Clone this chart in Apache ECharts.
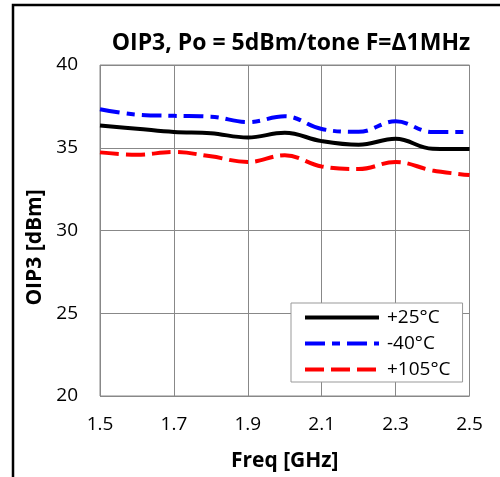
<!DOCTYPE html>
<html><head><meta charset="utf-8">
<script src="https://cdn.jsdelivr.net/npm/echarts@6/dist/echarts.min.js"></script>
<style>html,body{margin:0;padding:0;background:#fff}#c{width:500px;height:477px}</style>
</head><body><div id="c"></div>
<script>
const freq = [1.5, 1.6, 1.7, 1.8, 1.9, 2.0, 2.1, 2.2, 2.3, 2.4, 2.5];
const t25 = [36.34, 36.15, 35.95, 35.88, 35.62, 35.9, 35.4, 35.18, 35.54, 34.94, 34.92];
const tm40 = [37.33, 37.0, 36.93, 36.88, 36.55, 36.9, 36.13, 35.96, 36.6, 35.95, 35.95];
const t105 = [34.72, 34.58, 34.74, 34.48, 34.14, 34.54, 33.87, 33.71, 34.14, 33.63, 33.35];
const seriesNames = ['+25°C', '-40°C', '+105°C'];
const titleText = 'OIP3, Po = 5dBm/tone F=Δ1MHz';
const xName = 'Freq [GHz]';
const yName = 'OIP3 [dBm]';

const pair = (ys) => freq.map((f, i) => [f, ys[i]]);
const font = 'Open Sans';
const chart = echarts.init(document.getElementById('c'));
chart.setOption({
  animation: false,
  title: { text: titleText, left: 286, top: 27, textAlign: 'center',
    textStyle: { fontFamily: font, fontWeight: 'bold', fontSize: 23, color: '#000' } },
  grid: { left: 100, top: 65, right: 30.5, bottom: 80, show: true, borderColor: '#888', borderWidth: 1 },
  xAxis: { type: 'value', min: 1.5, max: 2.5, interval: 0.2,
    name: xName, nameLocation: 'middle', nameGap: 55,
    nameTextStyle: { fontFamily: font, fontWeight: 'bold', fontSize: 21, color: '#000' },
    axisLine: { show: false }, axisTick: { show: false },
    axisLabel: { fontFamily: font, fontSize: 19, color: '#000', margin: 19, formatter: v => v.toFixed(1) },
    splitLine: { show: true, lineStyle: { color: '#888', width: 1 } } },
  yAxis: { type: 'value', min: 20, max: 40, interval: 5,
    name: yName, nameLocation: 'middle', nameGap: 53,
    nameTextStyle: { fontFamily: font, fontWeight: 'bold', fontSize: 21, color: '#000', padding: [0, 34, 0, 0] },
    axisLine: { show: false }, axisTick: { show: false },
    axisLabel: { fontFamily: font, fontSize: 19, color: '#000', margin: 22 },
    splitLine: { show: true, lineStyle: { color: '#888', width: 1 } } },
  legend: { orient: 'vertical', left: 291, top: 303, itemWidth: 74, itemHeight: 12, itemGap: 7,
    padding: [5, 12, 3, 12], backgroundColor: '#fff', borderColor: '#999', borderWidth: 1,
    itemStyle: { opacity: 0 }, lineStyle: { width: 4 },
    textStyle: { fontFamily: font, fontSize: 19, color: '#000', padding: [0, 0, 0, 3] },
    data: seriesNames },
  series: [
    { name: seriesNames[0], type: 'line', data: pair(t25), smooth: 0.4, symbol: 'none',
      lineStyle: { color: '#000', width: 4 }, itemStyle: { color: '#000' }, z: 3 },
    { name: seriesNames[1], type: 'line', data: pair(tm40), smooth: 0.4, symbol: 'none',
      lineStyle: { color: '#0000ff', width: 4, type: [20, 7, 8, 7] }, itemStyle: { color: '#0000ff' } },
    { name: seriesNames[2], type: 'line', data: pair(t105), smooth: 0.4, symbol: 'none',
      lineStyle: { color: '#ff0000', width: 4, type: [19, 7] }, itemStyle: { color: '#ff0000' } }
  ],
  graphic: [
    { type: 'polyline', shape: { points: [[13, 477], [13, 5], [500, 5]] },
      style: { stroke: '#000', lineWidth: 2.5, fill: null } }
  ]
});
</script></body></html>
